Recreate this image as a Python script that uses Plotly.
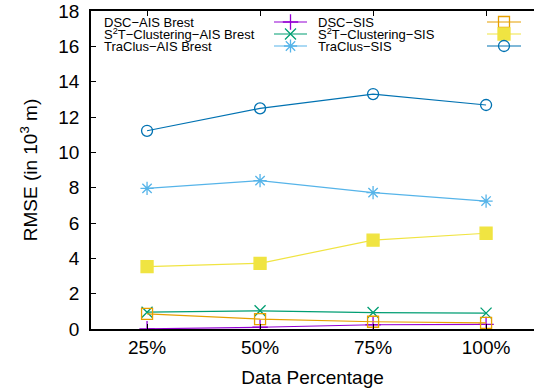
import plotly.graph_objects as go

# data
percentages = ["25%", "50%", "75%", "100%"]

dsc_ais = [0.01, 0.10, 0.24, 0.26]
s2t_ais = [0.95, 1.03, 0.93, 0.90]
traclus_ais = [7.96, 8.40, 7.72, 7.24]
dsc_sis = [0.86, 0.56, 0.41, 0.35]
s2t_sis = [3.53, 3.72, 5.03, 5.42]
traclus_sis = [11.22, 12.49, 13.30, 12.68]

series = [
    ("DSC\u2212AIS Brest", dsc_ais, "#9400d3", "cross-thin-open", 11),
    ("S<sup>2</sup>T\u2212Clustering\u2212AIS Brest", s2t_ais, "#009e73", "x-thin-open", 11),
    ("TraClus\u2212AIS Brest", traclus_ais, "#56b4e9", "asterisk-open", 11),
    ("DSC\u2212SIS", dsc_sis, "#e69f00", "square-open", 11),
    ("S<sup>2</sup>T\u2212Clustering\u2212SIS", s2t_sis, "#f0e442", "square", 12),
    ("TraClus\u2212SIS", traclus_sis, "#0072b2", "circle-open", 11),
]

FONT = "Liberation Sans, Arial, sans-serif"
L, R, T, B = 91, 534, 11, 329   # plot box in pixels

fig = go.Figure()
for name, vals, color, sym, size in series:
    fig.add_trace(go.Scatter(
        x=percentages, y=vals, mode="lines+markers", name=name,
        line=dict(color=color, width=1.2),
        marker=dict(symbol=sym, size=size, color=color, line=dict(color=color, width=1.3)),
        showlegend=False,
    ))

# gnuplot-style key: text, then sample, in two column groups
rows_y = [22, 34, 46]
annotations = []
for i, (name, vals, color, sym, size) in enumerate(series):
    col, row = divmod(i, 3)
    text_x = [102, 316][col]
    samp_x0, samp_x1 = [(274, 307), (487, 521)][col]
    y = rows_y[row]
    annotations.append(dict(x=text_x, y=y, xref="x2", yref="y2", text=name, showarrow=False,
                            xanchor="left", yanchor="middle", font=dict(size=13, color="black")))
    fig.add_trace(go.Scatter(
        x=[samp_x0, samp_x1], y=[y, y], mode="lines", xaxis="x2", yaxis="y2",
        line=dict(color=color, width=1.2), showlegend=False, hoverinfo="skip"))
    fig.add_trace(go.Scatter(
        x=[(samp_x0 + samp_x1) / 2], y=[y], mode="markers", xaxis="x2", yaxis="y2",
        marker=dict(symbol=sym, size=size, color=color, line=dict(color=color, width=1.3)),
        showlegend=False, hoverinfo="skip"))

fig.update_layout(
    width=534, height=392,
    margin=dict(l=L, r=534 - R, t=T, b=392 - B, autoexpand=False),
    paper_bgcolor="white", plot_bgcolor="white",
    font=dict(family=FONT, color="black", size=18),
    annotations=annotations,
    xaxis=dict(
        type="category", range=[-0.496, 3.424],
        showline=True, linecolor="black", linewidth=1.6, mirror="ticks",
        ticks="inside", ticklen=5, tickcolor="black", tickwidth=1,
        showgrid=False, zeroline=False,
        tickfont=dict(size=19),
        title=dict(text="Data Percentage", font=dict(size=19), standoff=14),
    ),
    yaxis=dict(
        range=[0, 18], dtick=2,
        showline=True, linecolor="black", linewidth=1.6,
        ticks="inside", ticklen=5, tickcolor="black", tickwidth=1,
        showgrid=False, zeroline=False,
        tickfont=dict(size=19), ticklabelstandoff=6,
        title=dict(text="RMSE (in 10<sup>3</sup> m)", font=dict(size=19), standoff=16),
    ),
    xaxis2=dict(overlaying="x", range=[L, R], visible=False, fixedrange=True),
    yaxis2=dict(overlaying="y", range=[B, T], visible=False, fixedrange=True),
)

fig.write_html("out.html", config={"displayModeBar": False},
               post_script="document.body.style.margin='0';")
